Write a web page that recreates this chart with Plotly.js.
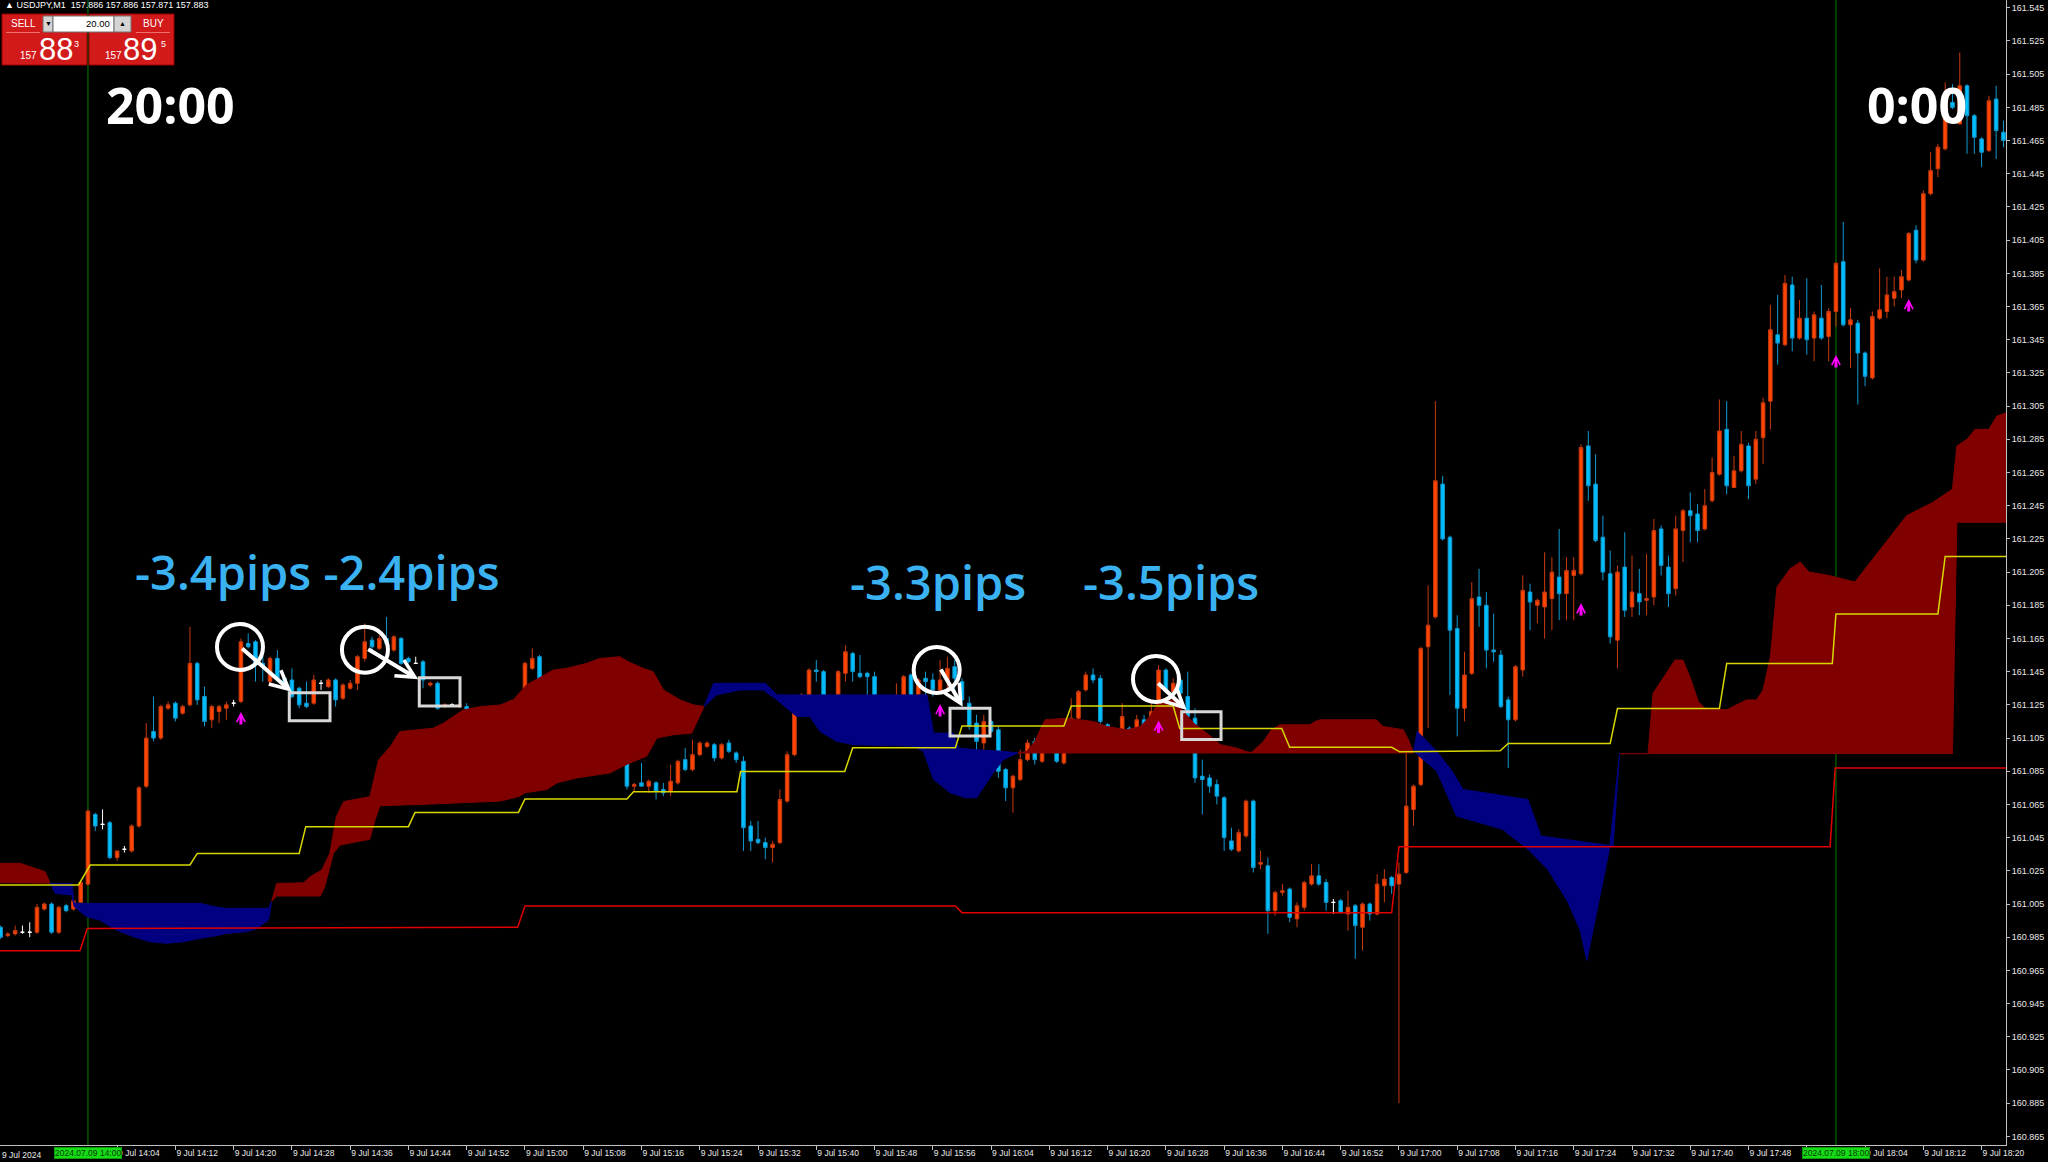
<!DOCTYPE html>
<html><head><meta charset="utf-8">
<script src="https://cdn.plot.ly/plotly-3.0.1.min.js"></script>
<style>html,body{margin:0;padding:0;background:#000;overflow:hidden}#chart{width:2048px;height:1162px}</style>
</head><body><div id="chart"></div>
<script>
// ---------- DATA ----------
const symbolName = 'USDJPY,M1';
const headerPrices = ['157.886', '157.886', '157.871', '157.883'];
const sellPrice = ['157', '88', '3'];
const buyPrice = ['157', '89', '5'];
const lotSize = '20.00';
const axisZeroTime = '14:00';     // x = 0 on the time axis
const firstBarTime = '13:48';     // first M1 bar shown

const opens = [160.991,160.986,160.987,160.988,160.988,160.988,161.002,161.005,160.988,161.004,161.002,161.006,
161.017,161.059,161.053,161.054,161.033,161.038,161.037,161.052,161.076,161.109,
161.105,161.123,161.126,161.120,161.125,161.150,161.130,161.116,161.121,161.123,
161.126,161.127,161.162,161.163,161.150,161.139,161.153,161.141,161.140,161.135,
161.126,161.126,161.138,161.136,161.140,161.129,161.135,161.138,161.153,161.164,
161.159,161.165,161.158,161.165,161.153,161.150,161.151,161.137,161.138,161.124,
161.125,161.124,161.124,161.119,161.098,161.103,161.100,161.115,161.103,161.126,
161.119,161.147,161.154,161.137,161.128,161.141,161.125,161.124,161.112,161.088,
161.089,161.095,161.102,161.092,161.094,161.076,161.078,161.076,161.078,161.074,
161.073,161.078,161.092,161.086,161.095,161.100,161.101,161.093,161.102,161.096,
161.091,161.052,161.044,161.042,161.039,161.042,161.067,161.095,161.120,161.130,
161.146,161.145,161.120,161.118,161.144,161.156,161.144,161.144,161.142,161.127,
161.120,161.117,161.128,161.143,161.130,161.141,161.140,161.134,161.140,161.148,
161.139,161.126,161.114,161.102,161.115,161.110,161.086,161.075,161.080,161.092,
161.103,161.091,161.102,161.100,161.090,161.103,161.117,161.134,161.143,161.141,
161.113,161.106,161.108,161.111,161.107,161.116,161.107,161.120,161.146,161.133,
161.140,161.130,161.117,161.082,161.081,161.077,161.069,161.043,161.037,161.046,
161.067,161.029,161.028,161.001,161.012,161.014,160.996,161.003,161.017,161.022,
161.018,161.006,161.007,160.999,161.004,160.991,161.005,160.999,161.016,161.021,
161.017,161.024,161.062,161.077,161.160,161.178,161.258,161.226,161.171,161.123,
161.144,161.190,161.185,161.158,161.155,161.128,161.116,161.146,161.193,161.185,
161.184,161.189,161.202,161.192,161.203,161.204,161.281,161.258,161.226,161.204,
161.164,161.208,161.184,161.192,161.188,161.190,161.231,161.208,161.195,161.230,
161.242,161.240,161.231,161.248,161.264,161.291,161.256,161.266,161.281,161.261,
161.286,161.308,161.348,161.342,161.378,161.346,161.358,161.346,161.358,161.347,
161.362,161.392,161.354,161.355,161.337,161.322,161.358,161.362,161.370,161.375,
161.381,161.411,161.393,161.433,161.448,161.460,161.488,161.475,161.498,161.480,
161.466,161.459,161.490,161.470];

const highs = [160.992,160.988,160.992,160.992,160.994,161.005,161.006,161.006,161.004,161.005,161.008,161.018,
161.062,161.060,161.062,161.055,161.037,161.040,161.053,161.076,161.114,161.130,
161.125,161.127,161.127,161.125,161.172,161.151,161.136,161.125,161.125,161.127,
161.128,161.165,161.168,161.164,161.155,161.154,161.158,161.142,161.147,161.136,
161.139,161.143,161.140,161.141,161.141,161.138,161.140,161.155,161.174,161.166,
161.167,161.178,161.167,161.166,161.154,161.154,161.152,161.139,161.139,161.126,
161.126,161.126,161.126,161.120,161.110,161.104,161.118,161.117,161.128,161.131,
161.151,161.159,161.155,161.138,161.141,161.142,161.126,161.125,161.113,161.091,
161.101,161.102,161.107,161.096,161.096,161.078,161.090,161.080,161.079,161.078,
161.089,161.092,161.099,161.104,161.103,161.103,161.102,161.102,161.104,161.097,
161.094,161.055,161.055,161.045,161.043,161.074,161.097,161.122,161.132,161.147,
161.152,161.146,161.126,161.146,161.161,161.157,161.155,161.145,161.145,161.128,
161.128,161.138,161.143,161.144,161.141,161.145,161.144,161.152,161.154,161.152,
161.141,161.130,161.119,161.119,161.116,161.112,161.087,161.083,161.098,161.104,
161.105,161.104,161.104,161.106,161.104,161.129,161.134,161.145,161.147,161.143,
161.114,161.109,161.126,161.112,161.119,161.119,161.126,161.149,161.147,161.141,
161.142,161.145,161.123,161.092,161.083,161.080,161.070,161.051,161.050,161.068,
161.068,161.037,161.033,161.013,161.017,161.015,161.006,161.019,161.029,161.029,
161.020,161.008,161.008,161.013,161.005,161.006,161.006,161.023,161.026,161.022,
161.030,161.106,161.077,161.160,161.197,161.308,161.263,161.227,161.179,161.157,
161.199,161.207,161.193,161.180,161.158,161.130,161.149,161.203,161.198,161.189,
161.217,161.214,161.231,161.214,161.214,161.282,161.290,161.276,161.239,161.218,
161.209,161.229,161.215,161.207,161.216,161.237,161.233,161.215,161.239,161.243,
161.253,161.246,161.255,161.274,161.309,161.308,161.275,161.290,161.283,161.290,
161.310,161.366,161.372,161.384,161.383,161.369,161.382,161.362,161.378,161.364,
161.392,161.416,161.364,161.357,161.338,161.362,161.388,161.383,161.383,161.387,
161.410,161.414,161.435,161.458,161.463,161.500,161.499,161.518,161.499,161.481,
161.467,161.492,161.498,161.477];

const lows = [160.984,160.985,160.986,160.987,160.985,160.987,161.001,160.987,160.987,161.000,161.001,161.003,
161.016,161.049,161.050,161.032,161.031,161.036,161.036,161.051,161.075,161.103,
161.104,161.122,161.115,161.119,161.124,161.125,161.112,161.111,161.114,161.116,
161.124,161.126,161.159,161.139,161.139,161.136,161.139,161.134,161.129,161.123,
161.123,161.125,161.134,161.135,161.124,161.128,161.134,161.134,161.151,161.158,
161.158,161.161,161.157,161.149,161.150,161.150,161.135,161.136,161.122,161.123,
161.124,161.123,161.117,161.097,161.097,161.097,161.099,161.102,161.102,161.115,
161.116,161.146,161.127,161.127,161.127,161.120,161.121,161.110,161.087,161.085,
161.088,161.094,161.089,161.089,161.074,161.073,161.076,161.072,161.068,161.070,
161.070,161.077,161.085,161.085,161.094,161.099,161.091,161.092,161.096,161.090,
161.037,161.037,161.041,161.032,161.030,161.041,161.066,161.094,161.118,161.129,
161.139,161.118,161.114,161.117,161.139,161.139,161.141,161.130,161.122,161.112,
161.103,161.116,161.127,161.129,161.128,161.130,161.130,161.133,161.134,161.128,
161.125,161.110,161.097,161.097,161.108,161.081,161.067,161.060,161.079,161.091,
161.089,161.090,161.096,161.090,161.089,161.102,161.115,161.133,161.138,161.113,
161.102,161.105,161.104,161.105,161.101,161.104,161.106,161.119,161.132,161.132,
161.131,161.116,161.078,161.059,161.072,161.065,161.037,161.037,161.036,161.045,
161.024,161.026,160.987,160.998,161.010,160.994,160.991,161.001,161.016,161.016,
161.001,160.999,160.999,160.989,160.972,160.977,160.995,160.998,161.006,161.011,
160.885,161.023,161.052,161.076,161.111,161.177,161.224,161.131,161.106,161.115,
161.143,161.172,161.147,161.151,161.123,161.087,161.115,161.142,161.170,161.174,
161.165,161.170,161.176,161.176,161.176,161.203,161.248,161.223,161.200,161.162,
161.147,161.178,161.178,161.179,161.179,161.185,161.203,161.184,161.191,161.211,
161.223,161.223,161.230,161.247,161.263,161.252,161.256,161.265,161.249,161.258,
161.270,161.291,161.330,161.341,161.338,161.345,161.336,161.332,161.345,161.332,
161.353,161.353,161.328,161.306,161.317,161.321,161.357,161.358,161.365,161.370,
161.380,161.391,161.392,161.432,161.443,161.459,161.484,161.475,161.457,161.457,
161.449,161.458,161.454,161.461];

const closes = [160.985,160.987,160.989,160.988,160.988,161.003,161.005,160.988,161.003,161.001,161.007,161.018,
161.061,161.052,161.053,161.033,161.037,161.038,161.052,161.075,161.105,161.105,
161.124,161.125,161.117,161.124,161.150,161.128,161.115,161.124,161.124,161.125,
161.126,161.163,161.160,161.149,161.148,161.153,161.141,161.136,161.130,161.125,
161.124,161.140,161.138,161.140,161.128,161.137,161.138,161.154,161.163,161.160,
161.165,161.162,161.166,161.150,161.151,161.150,161.140,161.138,161.123,161.125,
161.125,161.125,161.118,161.098,161.102,161.100,161.115,161.103,161.127,161.120,
161.150,161.153,161.137,161.128,161.140,161.124,161.123,161.112,161.088,161.090,
161.097,161.101,161.092,161.095,161.076,161.077,161.076,161.079,161.073,161.072,
161.079,161.091,161.086,161.095,161.102,161.102,161.093,161.101,161.097,161.092,
161.051,161.043,161.042,161.039,161.041,161.068,161.095,161.121,161.131,161.146,
161.145,161.121,161.118,161.145,161.157,161.145,161.142,161.142,161.129,161.120,
161.116,161.128,161.142,161.130,161.140,161.139,161.134,161.140,161.147,161.141,
161.128,161.112,161.103,161.115,161.109,161.085,161.075,161.082,161.092,161.102,
161.092,161.103,161.101,161.091,161.103,161.117,161.133,161.143,161.140,161.115,
161.105,161.108,161.118,161.108,161.116,161.107,161.121,161.146,161.133,161.138,
161.132,161.118,161.081,161.080,161.076,161.070,161.045,161.038,161.048,161.067,
161.027,161.030,161.001,161.012,161.013,160.997,161.004,161.018,161.022,161.017,
161.006,161.006,161.000,161.003,160.992,161.005,160.999,161.017,161.020,161.016,
161.023,161.064,161.076,161.159,161.173,161.260,161.225,161.170,161.123,161.143,
161.189,161.185,161.158,161.157,161.124,161.116,161.148,161.194,161.187,161.188,
161.193,161.205,161.192,161.206,161.206,161.280,161.257,161.224,161.205,161.166,
161.205,161.182,161.193,161.187,161.189,161.230,161.209,161.192,161.231,161.242,
161.239,161.230,161.245,161.265,161.290,161.257,161.266,161.282,161.257,161.285,
161.307,161.351,161.343,161.379,161.346,161.358,161.345,161.360,161.346,161.362,
161.391,161.354,161.357,161.337,161.323,161.359,161.363,161.372,161.374,161.383,
161.409,161.393,161.433,161.447,161.461,161.493,161.485,161.498,161.480,161.467,
161.458,161.489,161.471,161.465];

// Ichimoku lines (x = minutes after 14:00)
const tenkanX = [-12.1,-1.3,0.3,14.0,15.0,29.0,29.9,44.0,44.9,59.1,60.0,74.0,74.9,89.1,89.6,103.9,105.0,119.1,120.0,134.0,135.0,149.0,149.9,163.9,165.0,179.0,180.1,193.9,195.0,209.0,210.0,224.0,225.0,239.5,240.0,254.0,255.0,263.4];
const tenkanY = [161.0165,161.0165,161.0285,161.0285,161.0355,161.0355,161.0516,161.0516,161.0602,161.0602,161.0683,161.0683,161.0727,161.0727,161.0848,161.0848,161.0992,161.0992,161.1123,161.1123,161.1243,161.1243,161.1108,161.1108,161.0994,161.0994,161.0967,161.0973,161.1017,161.1017,161.1228,161.1228,161.1499,161.1499,161.1798,161.1798,161.2144,161.2144];
const kijunX = [-12.1,-1.1,-0.1,59.0,60.0,119.1,120.0,179.0,180.0,239.2,239.9,263.4];
const kijunY = [160.9769,160.9769,160.9903,160.9910,161.0038,161.0038,160.9998,160.9997,161.0395,161.0395,161.0870,161.0870];

// Kumo (cloud) pieces: upper edge and lower edge of each coloured piece
const redClouds = [
  {topX:[-12.1,-9.3,-5.9,-5.2], topY:[161.0295,161.0295,161.0245,161.0176],
   botX:[-12.1,-5.2], botY:[161.0178,161.0176]},
  {topX:[25.2,25.9,29.6,30.5,32.1,33.2,34.1,35.1,38.7,39.9,41.5,42.8,47.4,48.8,51.5,53.8,56.6,58.4,60.2,63.9,65.7,68.5,70.3,73.0,74.2,76.2,77.6,79.0,81.3,83.1,84.6],
   topY:[161.0064,161.0174,161.0178,161.0214,161.0255,161.0355,161.0576,161.0667,161.0697,161.0918,161.0998,161.1089,161.1109,161.1139,161.1219,161.1239,161.1249,161.128,161.137,161.146,161.147,161.150,161.153,161.154,161.151,161.147,161.145,161.134,161.128,161.125,161.124],
   botX:[25.2,25.9,31.9,32.5,33.7,34.6,38.7,39.4,40.1,47.4,56.6,59.3,60.0,63.0,64.4,67.1,71.7,73.0,74.4,76.7,78.1,80.4,82.9,84.6],
   botY:[161.0064,161.0098,161.0098,161.0154,161.0355,161.0405,161.0440,161.0556,161.0642,161.0653,161.067,161.070,161.072,161.074,161.078,161.081,161.084,161.087,161.090,161.094,161.105,161.107,161.108,161.124]},
  {topX:[127.7,128.9,130.0,131.4,134.4,138.0,139.9,142.6,144.5,145.8,147.2,149.0,150.2,151.8,153.6,155.5,157.7,159.3,159.8,161.4,162.5,163.7,167.8,168.5,169.2,176.9,177.8,180.6,181.3,182.0],
   topY:[161.096,161.097,161.103,161.116,161.117,161.115,161.112,161.110,161.112,161.118,161.128,161.128,161.122,161.114,161.108,161.101,161.099,161.0965,161.0965,161.103,161.110,161.113,161.113,161.115,161.116,161.116,161.112,161.110,161.104,161.097],
   botX:[127.7,182.0], botY:[161.096,161.096]},
  {topX:[210.3,214.2,214.9,217.9,219.0,220.1,221.1,222.0,225.0,225.9,227.7,229.1,230.0,231.0,231.9,233.7,235.1,236.3,239.0,242.6,246.2,249.7,253.3,256.0,256.6,258.0,259.1,261.0,262.1,263.4],
   topY:[161.0956,161.0956,161.132,161.152,161.152,161.140,161.127,161.123,161.122,161.124,161.128,161.128,161.134,161.154,161.196,161.207,161.211,161.205,161.203,161.199,161.219,161.239,161.247,161.255,161.281,161.285,161.291,161.291,161.299,161.301],
   botX:[210.3,256.0,256.6,263.4], botY:[161.0956,161.0956,161.235,161.235]}
];
const blueClouds = [
  {topX:[-5.2,-4.5,-2.2,-1.9,15.4,17.4,19.0,24.8,25.2],
   topY:[161.0176,161.0174,161.0174,161.0054,161.0054,161.0034,161.0024,161.0024,161.0064],
   botX:[-5.2,-4.5,-2.2,-1.9,-0.2,1.6,3.9,6.2,8.5,10.8,13.1,15.4,17.4,19.0,21.8,23.2,24.8,25.2],
   botY:[161.0176,161.0114,161.0104,161.0034,160.9974,160.9953,160.9893,160.9853,160.9823,160.9813,160.9823,160.9843,160.9857,160.9873,160.9883,160.9903,160.9953,161.0064]},
  {topX:[84.6,85.9,93.0,94.6,115.2,116.1,118.8,119.5,122.0,125.7,127.7],
   topY:[161.124,161.138,161.138,161.131,161.131,161.108,161.108,161.099,161.098,161.097,161.096],
   botX:[84.6,86.3,89.5,92.7,94.6,97.3,99.1,100.5,102.8,105.1,113.3,114.7,116.1,118.4,120.5,122.0,122.5,124.3,125.7,127.7],
   botY:[161.124,161.131,161.134,161.134,161.128,161.118,161.118,161.109,161.103,161.101,161.100,161.097,161.080,161.072,161.069,161.069,161.072,161.084,161.092,161.096]},
  {topX:[182.0,182.5,185.2,187.3,188.8,197.7,199.5,209.4,210.3],
   topY:[161.097,161.109,161.097,161.085,161.074,161.068,161.046,161.040,161.096],
   botX:[182.0,182.5,185.2,187.9,194.2,197.7,200.4,203.1,204.9,205.8,207.1,208.9,210.3],
   botY:[161.097,161.095,161.085,161.058,161.050,161.038,161.026,161.007,160.989,160.971,160.999,161.038,161.096]}
];

// magenta signal arrows
const signalTimes = ['14:21','15:57','16:27','17:25','18:00','18:10'];
const signalPrices = [161.1165,161.1213,161.1114,161.1821,161.3316,161.3654];

// time-axis labels ('' = label hidden under the session marker)
const tickTimes = ['14:04','14:12','14:20','14:28','14:36','14:44','14:52','15:00','15:08','15:16','15:24','15:32','15:40','15:48','15:56','16:04','16:12','16:20','16:28','16:36','16:44','16:52','17:00','17:08','17:16','17:24','17:32','17:40','17:48','17:56','18:04','18:12','18:20'];
const hiddenTickTimes = ['17:56'];
const dayLabel = '9 Jul';
const sessionLines = ['14:00','18:00'];
const sessionLabels = ['2024.07.09 14:00','2024.07.09 18:00'];
const dateLabel = '9 Jul 2024';
const priceTick0 = 160.865, priceStep = 0.02;

// hand-drawn markup captions
const bigTimeTexts = ['20:00','0:00'];
const pipsTexts = ['-3.4pips -2.4pips','-3.3pips','-3.5pips'];

// ---------- BUILD ----------
const toMin = t => { const [h,m] = t.split(':').map(Number); return h*60+m; };
const zero = toMin(axisZeroTime);
const tMin = t => toMin(t) - zero;
const first = tMin(firstBarTime);
const xs = opens.map((_,i) => first + i);

const W = 2006, H = 1145;        // plot area in px
const PX = x => x / W, PY = y => 1 - y / H;
const PRICE_PER_PX = (161.5497 - 160.8598) / H;

function pick(f){ const o={x:[],open:[],high:[],low:[],close:[]};
  xs.forEach((x,i)=>{ if(f(opens[i],closes[i])){o.x.push(x);o.open.push(opens[i]);o.high.push(highs[i]);o.low.push(lows[i]);o.close.push(closes[i]);} });
  return o; }
function candle(d, fill, line){
  return {type:'candlestick', x:d.x, open:d.open, high:d.high, low:d.low, close:d.close,
    increasing:{fillcolor:fill, line:{color:line, width:1}},
    decreasing:{fillcolor:fill, line:{color:line, width:1}},
    whiskerwidth:0, hoverinfo:'skip', showlegend:false};
}
function poly(c, fill){
  return {type:'scatter', mode:'lines', x:c.topX.concat(c.botX.slice().reverse()),
    y:c.topY.concat(c.botY.slice().reverse()), fill:'toself', fillcolor:fill,
    line:{color:fill, width:1}, hoverinfo:'skip', showlegend:false};
}

const traces = [];
redClouds.forEach(c => traces.push(poly(c, '#800000')));
blueClouds.forEach(c => traces.push(poly(c, '#000080')));
traces.push({type:'scatter', mode:'lines', x:tenkanX, y:tenkanY, line:{color:'#d8d800', width:1.5}, hoverinfo:'skip'});
traces.push({type:'scatter', mode:'lines', x:kijunX, y:kijunY, line:{color:'#e00000', width:1.5}, hoverinfo:'skip'});
traces.push(candle(pick((o,c)=>c>o), '#ff4500', '#c83a10'));
traces.push(candle(pick((o,c)=>c<o), '#00bfff', '#109ad0'));
traces.push(candle(pick((o,c)=>c===o), '#ffffff', '#ffffff'));

const shapes = [];
sessionLines.forEach(t => shapes.push({type:'line', xref:'x', yref:'paper', x0:tMin(t), x1:tMin(t), y0:0, y1:1, line:{color:'#008000', width:1}, layer:'below'}));

// circles (centre in data coords, size in px)
const circles = [[20.87,161.1599],[38.03,161.1582],[116.53,161.1460],[146.64,161.1406]];
circles.forEach(([m,p]) => shapes.push({type:'circle', xref:'x', yref:'y', xsizemode:'pixel', ysizemode:'pixel',
  xanchor:m, yanchor:p, x0:-23, x1:23, y0:-23, y1:23, line:{color:'#ffffff', width:4}}));
// boxes
const boxes = [[27.64,33.23,161.1154,161.1323],[45.49,51.08,161.1243,161.1414],[118.36,123.85,161.1062,161.1229],[150.17,155.57,161.1042,161.1209]];
boxes.forEach(([a,b,c,d]) => shapes.push({type:'rect', xref:'x', yref:'y', x0:a, x1:b, y0:c, y1:d, line:{color:'#d8d8d8', width:3}}));

// one-click trading panel
const rectPx = (x0,y0,x1,y1,fill,line,lw) => shapes.push({type:'rect', xref:'paper', yref:'paper', x0:PX(x0), x1:PX(x1), y0:PY(y1), y1:PY(y0), fillcolor:fill, line:{color:line||fill, width:lw||0}});
rectPx(2,14,87,65,'#d21a1a','#9a0000',1);
rectPx(89,14,174,65,'#d21a1a','#9a0000',1);
rectPx(6,32,40,33,'#f07070');
rectPx(136,32,170,33,'#f07070');
rectPx(43,16,53,32,'#d4d4d4','#707070',1);
rectPx(53,16,114,32,'#ffffff','#707070',1);
rectPx(114,16,131,32,'#d4d4d4','#707070',1);

const ann = [];
const txt = (x,y,text,size,color,xa,extra) => ann.push(Object.assign({xref:'paper', yref:'paper', x:PX(x), y:PY(y), text, showarrow:false,
  xanchor:xa||'center', yanchor:'middle', font:{family:'Liberation Sans, Arial', size, color}}, extra||{}));
txt(3,5,'▲ '+symbolName+'  '+headerPrices.join(' '),9,'#ffffff','left');
txt(23,24,'SELL',10,'#ffffff');
txt(153,24,'BUY',10,'#ffffff');
txt(48,24,'▼',7,'#000000');
txt(122.5,24,'▲',7,'#000000');
txt(112,24,lotSize,9.5,'#000000','right');
txt(28,55,sellPrice[0],10,'#ffffff');
txt(55.5,50,sellPrice[1],31,'#ffffff');
txt(76,44,sellPrice[2],9,'#ffffff');
txt(113,55,buyPrice[0],10,'#ffffff');
txt(140,50,buyPrice[1],31,'#ffffff');
txt(163,44,buyPrice[2],9,'#ffffff');

// big captions
const cap = (x,y,text,size,color,weight) => ann.push({xref:'paper', yref:'paper', x:PX(x), y:PY(y), text, showarrow:false,
  xanchor:'center', yanchor:'middle', font:{family:'Open Sans, Noto Sans', size, color, weight}});
cap(170,105,bigTimeTexts[0],50,'#ffffff','bold');
cap(1917,105,bigTimeTexts[1],50,'#ffffff','bold');
cap(317,572,pipsTexts[0],47,'#3ab2f2',600);
cap(938,582,pipsTexts[1],47,'#3ab2f2',600);
cap(1171,582,pipsTexts[2],47,'#3ab2f2',600);

// white markup arrows (tail -> head)
const arrows = [[20.96,161.1598,27.97,161.1329],[38.27,161.1591,45.35,161.1404],[116.98,161.1472,120.10,161.1239],[146.73,161.1389,150.85,161.1219]];
arrows.forEach(([ax,ay,x,y]) => ann.push({xref:'x', yref:'y', axref:'x', ayref:'y', x, y, ax, ay, text:'', showarrow:true,
  arrowhead:5, arrowsize:0.9, arrowwidth:4, arrowcolor:'#ffffff', standoff:0, startstandoff:0}));

// magenta signal arrows (short thick up-arrows centred on the signal price)
signalTimes.forEach((t,i) => ann.push({xref:'x', yref:'y', x:tMin(t), y:signalPrices[i] + 7*PRICE_PER_PX, ax:0, ay:14,
  text:'', showarrow:true, arrowhead:5, arrowsize:0.55, arrowwidth:3, arrowcolor:'#ff00ff', standoff:0}));

// axis extras
ann.push({xref:'paper', yref:'paper', x:0, y:PY(1148), text:dateLabel, showarrow:false, xanchor:'left', yanchor:'top',
  font:{family:'Liberation Sans, Arial', size:8.5, color:'#e8e8e8'}});
sessionLines.forEach((t,i) => ann.push({xref:'x', yref:'paper', x:tMin(t), y:PY(1147), text:sessionLabels[i], showarrow:false,
  xanchor:'center', yanchor:'top', bgcolor:'#16dc16', bordercolor:'#0a9a0a', borderwidth:1, borderpad:0,
  font:{family:'Liberation Sans, Arial', size:8.5, color:'#0a3a0a'}}));

const layout = {
  width:2048, height:1162, margin:{l:0, r:42, t:0, b:17},
  paper_bgcolor:'#000000', plot_bgcolor:'#000000', showlegend:false, hovermode:false, dragmode:false,
  xaxis:{type:'linear', range:[-12.08, 263.35], rangeslider:{visible:false}, showgrid:false, zeroline:false,
    tickvals:tickTimes.map(tMin), ticktext:tickTimes.map(t => hiddenTickTimes.includes(t) ? '' : dayLabel+' '+t),
    ticks:'outside', ticklen:4,
    tickcolor:'#c0c0c0', showline:true, linecolor:'#c0c0c0', linewidth:1, ticklabelposition:'outside right',
    tickfont:{family:'Liberation Sans, Arial', size:8.5, color:'#e8e8e8'}, automargin:false, fixedrange:true},
  yaxis:{side:'right', range:[160.8598, 161.5497], tick0:priceTick0, dtick:priceStep, tickformat:'.3f',
    showgrid:false, zeroline:false, ticks:'outside', ticklen:3, tickcolor:'#c0c0c0', showline:true,
    linecolor:'#c0c0c0', linewidth:1, tickfont:{family:'Liberation Sans, Arial', size:9, color:'#e8e8e8'},
    automargin:false, fixedrange:true},
  shapes, annotations:ann
};
Plotly.newPlot('chart', traces, layout, {staticPlot:true, displayModeBar:false});
</script>
</body></html>
